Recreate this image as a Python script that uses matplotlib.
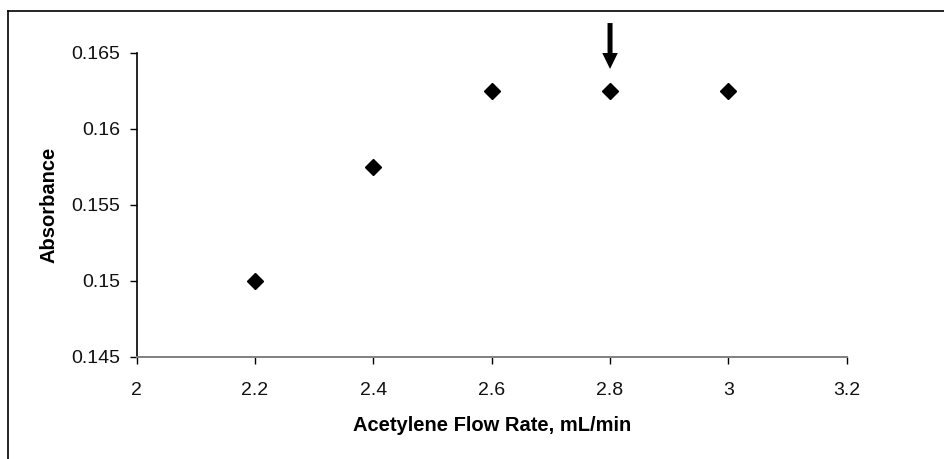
import matplotlib.pyplot as plt
from matplotlib.lines import Line2D

plt.rcParams['font.family'] = ['Liberation Sans', 'DejaVu Sans']

flow_rate = [2.2, 2.4, 2.6, 2.8, 3.0]
absorbance = [0.150, 0.1575, 0.1625, 0.1625, 0.1625]
x_ticks = [2, 2.2, 2.4, 2.6, 2.8, 3, 3.2]
x_labels = ['2', '2.2', '2.4', '2.6', '2.8', '3', '3.2']
y_ticks = [0.145, 0.15, 0.155, 0.16, 0.165]
y_labels = ['0.145', '0.15', '0.155', '0.16', '0.165']
optimum = 2.8

fig = plt.figure(figsize=(9.44, 4.59), dpi=100)
W, H = 944, 459
ax = fig.add_axes([136.7 / W, 1 - 357 / H, (846.7 - 136.7) / W, (357 - 53) / H])

ax.plot(flow_rate, absorbance, linestyle='none', marker='D', markersize=8.5,
        color='black', clip_on=False, zorder=3)

ax.set_xlim(2, 3.2)
ax.set_ylim(0.145, 0.165)
ax.set_xticks(x_ticks)
ax.set_xticklabels(x_labels)
ax.set_yticks(y_ticks)
ax.set_yticklabels(y_labels)

ax.spines['top'].set_visible(False)
ax.spines['right'].set_visible(False)
ax.spines['left'].set_color('black')
ax.spines['bottom'].set_color('#808080')
ax.spines['left'].set_linewidth(1.2)
ax.spines['bottom'].set_linewidth(1.4)
ax.tick_params(axis='both', direction='out', length=5, width=1, color='black',
               labelsize=14, labelcolor='#111111')
ax.tick_params(axis='x', pad=13)
ax.tick_params(axis='y', pad=7)

ax.set_xlabel('Acetylene Flow Rate, mL/min', fontsize=14.5, fontweight='bold', labelpad=12)
ax.set_ylabel('Absorbance', fontsize=14.5, fontweight='bold', labelpad=9)

# arrow marking the chosen flow rate
ax.annotate('', xy=(optimum, 0.16395), xytext=(optimum, 0.16697),
            xycoords='data', textcoords='data', annotation_clip=False,
            arrowprops=dict(width=3.6, headwidth=11.2, headlength=11.5,
                            facecolor='black', edgecolor='black', lw=0))

# frame: top and left edges only
fig.add_artist(Line2D([8 / W, 1], [1 - 11 / H, 1 - 11 / H], transform=fig.transFigure,
                      color='black', linewidth=1.2))
fig.add_artist(Line2D([8 / W, 8 / W], [0, 1 - 11 / H], transform=fig.transFigure,
                      color='black', linewidth=1.2))

fig.savefig('out.png', dpi=100)
